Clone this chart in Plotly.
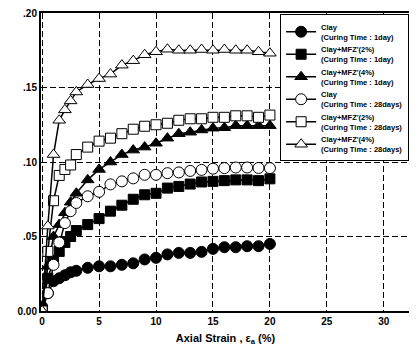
import plotly.graph_objects as go

strain = [0, 0.5, 1, 1.5, 2, 2.5, 3, 4, 5, 6, 7, 8, 9, 10, 11, 12, 13, 14, 15, 16, 17, 18, 19, 20]

clay_1d = [0.003, 0.012, 0.020, 0.022, 0.024, 0.026, 0.027, 0.029, 0.030, 0.030, 0.031, 0.032, 0.0346,
           0.0357, 0.038, 0.039, 0.039, 0.0397, 0.0417, 0.0428, 0.0428, 0.0435, 0.0435, 0.045]
mfz2_1d = [0.0, 0.022, 0.034, 0.040, 0.046, 0.050, 0.054, 0.058, 0.062, 0.067, 0.071, 0.075, 0.078,
           0.079, 0.0825, 0.0836, 0.0852, 0.0866, 0.087, 0.0875, 0.088, 0.088, 0.0875, 0.0887]
mfz4_1d = [0.0, 0.030, 0.050, 0.058, 0.066, 0.073, 0.079, 0.088, 0.095, 0.100, 0.105, 0.108, 0.110,
           0.1126, 0.116, 0.119, 0.120, 0.1215, 0.1227, 0.123, 0.1244, 0.1244, 0.1244, 0.1244]
clay_28d = [0.0, 0.012, 0.031, 0.046, 0.059, 0.067, 0.0725, 0.077, 0.080, 0.085, 0.087, 0.089, 0.0914,
            0.0914, 0.0925, 0.093, 0.094, 0.0947, 0.0955, 0.0959, 0.0963, 0.0963, 0.096, 0.0959]
mfz2_28d = [0.0, 0.040, 0.074, 0.091, 0.095, 0.098, 0.105, 0.110, 0.114, 0.116, 0.119, 0.122, 0.124,
            0.125, 0.126, 0.128, 0.129, 0.129, 0.130, 0.130, 0.131, 0.131, 0.130, 0.1315]
mfz4_28d = [0.0, 0.057, 0.105, 0.128, 0.135, 0.141, 0.147, 0.152, 0.156, 0.159, 0.165, 0.168, 0.172,
            0.174, 0.1757, 0.175, 0.175, 0.1755, 0.175, 0.1755, 0.175, 0.175, 0.174, 0.173]

series_names = [
    "Clay<br>(Curing Time : 1day)",
    "Clay+MFZ'(2%)<br>(Curing Time : 1day)",
    "Clay+MFZ'(4%)<br>(Curing Time : 1day)",
    "Clay<br>(Curing Time : 28days)",
    "Clay+MFZ'(2%)<br>(Curing Time : 28days)",
    "Clay+MFZ'(4%)<br>(Curing Time : 28days)",
]
series_values = [clay_1d, mfz2_1d, mfz4_1d, clay_28d, mfz2_28d, mfz4_28d]
symbols = ["circle", "square", "triangle-up", "circle", "square", "triangle-up"]
fills = ["black", "black", "black", "white", "white", "white"]
sizes = [11, 10, 11, 11, 10, 11]

x_ticks = [0, 5, 10, 15, 20, 25, 30]
y_ticks = [0.0, 0.05, 0.10, 0.15, 0.20]
y_tick_labels = ["0.00", ".05", ".10", ".15", ".20"]

FONT = "Arial, Liberation Sans, sans-serif"

fig = go.Figure()
for name, vals, sym, fc, sz in zip(series_names, series_values, symbols, fills, sizes):
    fig.add_trace(go.Scatter(
        x=strain, y=vals, mode="lines+markers", name=name,
        line=dict(color="black", width=1.5),
        marker=dict(symbol=sym, size=sz, color=fc, line=dict(color="black", width=1)),
    ))

axis_common = dict(
    showline=True, linecolor="black", linewidth=2, mirror=True,
    showgrid=True, gridcolor="black", gridwidth=1, griddash="6px,3px",
    zeroline=False, ticks="", automargin=False, ticklabeloverflow="allow",
    tickfont=dict(family=FONT, size=10, color="black", weight="bold"),
)
fig.update_xaxes(range=[-0.1, 32.3], tickvals=x_ticks, **axis_common,
                 title=dict(text="Axial Strain , ε<sub>a</sub> (%)",
                            font=dict(family=FONT, size=11, color="black", weight="bold"),
                            standoff=8))
fig.update_yaxes(range=[0, 0.2], tickvals=y_ticks, ticktext=y_tick_labels, **axis_common)

fig.add_annotation(text="Stress Ratio , q / p'", xref="paper", yref="paper",
                   x=-0.1, y=0.62, xanchor="right", yanchor="middle", textangle=-90,
                   showarrow=False, font=dict(family=FONT, size=11, color="black", weight="bold"))

fig.update_layout(
    width=409, height=345,
    margin=dict(l=33, r=7, t=5, b=42, autoexpand=False),
    paper_bgcolor="white", plot_bgcolor="white",
    showlegend=True,
    legend=dict(x=0.648, y=0.995, xanchor="left", yanchor="top",
                bgcolor="white", bordercolor="black", borderwidth=1,
                font=dict(family=FONT, size=7.5, color="black", weight="bold"),
                tracegroupgap=0, itemwidth=30),
)

fig.write_html("out.html")
